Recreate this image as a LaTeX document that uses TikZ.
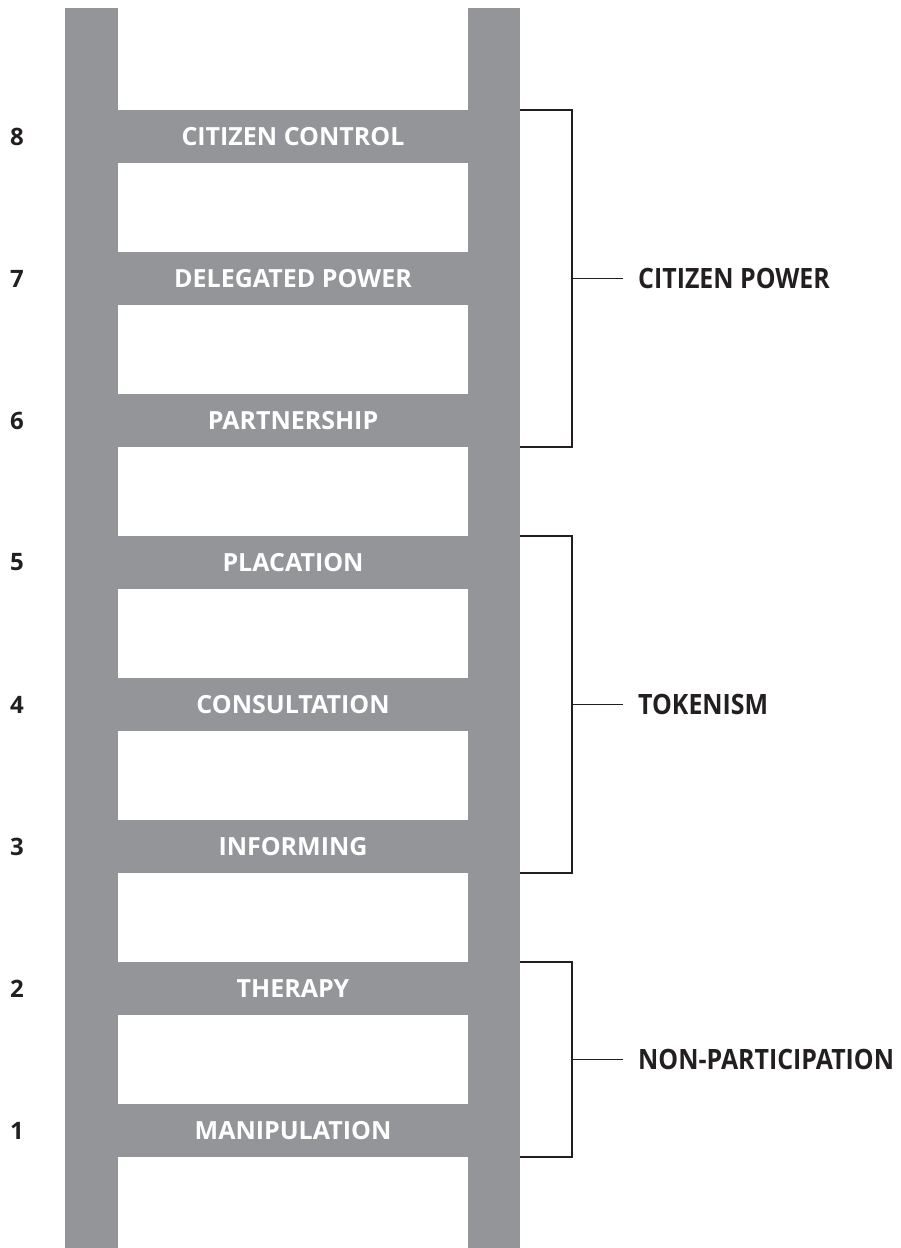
\documentclass[tikz,border=0pt]{standalone}
\usepackage{fontspec}
\usepackage{graphicx}
\setmainfont{Open Sans}
\definecolor{laddergray}{RGB}{147,149,152}
\definecolor{inkblack}{RGB}{35,31,32}
\newcommand{\grouptext}[1]{\scalebox{0.89}[1]{#1}}
\begin{document}
\begin{tikzpicture}[x=1pt,y=-1pt,
  rung/.style={fill=laddergray,draw=none,minimum width=350pt,minimum height=53pt,inner sep=0pt,
    text=white,font=\fontsize{25}{25}\selectfont\bfseries},
  num/.style={anchor=west,inner sep=0pt,text=inkblack,font=\fontsize{24}{24}\selectfont\bfseries},
  grouplab/.style={anchor=west,inner sep=0pt,text=inkblack,font=\fontsize{28}{28}\selectfont\bfseries},
  brack/.style={draw=inkblack,line width=1.4pt}]
\useasboundingbox (0,0) rectangle (900,1248);
% rails
\fill[laddergray] (65,8) rectangle (118,1248);
\fill[laddergray] (468,8) rectangle (520,1248);
% rungs
\foreach \n/\t in {8/CITIZEN CONTROL,7/DELEGATED POWER,6/PARTNERSHIP,5/PLACATION,4/CONSULTATION,3/INFORMING,2/THERAPY,1/MANIPULATION}{
  \pgfmathsetmacro{\yc}{110+142*(8-\n)+26.5}
  \node[rung] (r\n) at (293,\yc) {\t};
  \node[num] (n\n) at (10,\yc) {\n};
}
% bracket coordinates
\coordinate (cpT) at (520,110);
\coordinate (cpB) at (520,447);
\coordinate (tkT) at (520,536);
\coordinate (tkB) at (520,873);
\coordinate (npT) at (520,962);
\coordinate (npB) at (520,1157);
\node[grouplab] (cp) at (638,278.5) {\grouptext{CITIZEN POWER}};
\node[grouplab] (tk) at (638,704.5) {\grouptext{TOKENISM}};
\node[grouplab] (np) at (638,1059.5) {\grouptext{NON-PARTICIPATION}};
\draw[brack] (cpT) -- ++(52,0) |- (cpB);
\draw[brack] (tkT) -- ++(52,0) |- (tkB);
\draw[brack] (npT) -- ++(52,0) |- (npB);
\draw[brack] (572,278.5) -- ([xshift=-15pt]cp.west);
\draw[brack] (572,704.5) -- ([xshift=-15pt]tk.west);
\draw[brack] (572,1059.5) -- ([xshift=-15pt]np.west);
\end{tikzpicture}
\end{document}
